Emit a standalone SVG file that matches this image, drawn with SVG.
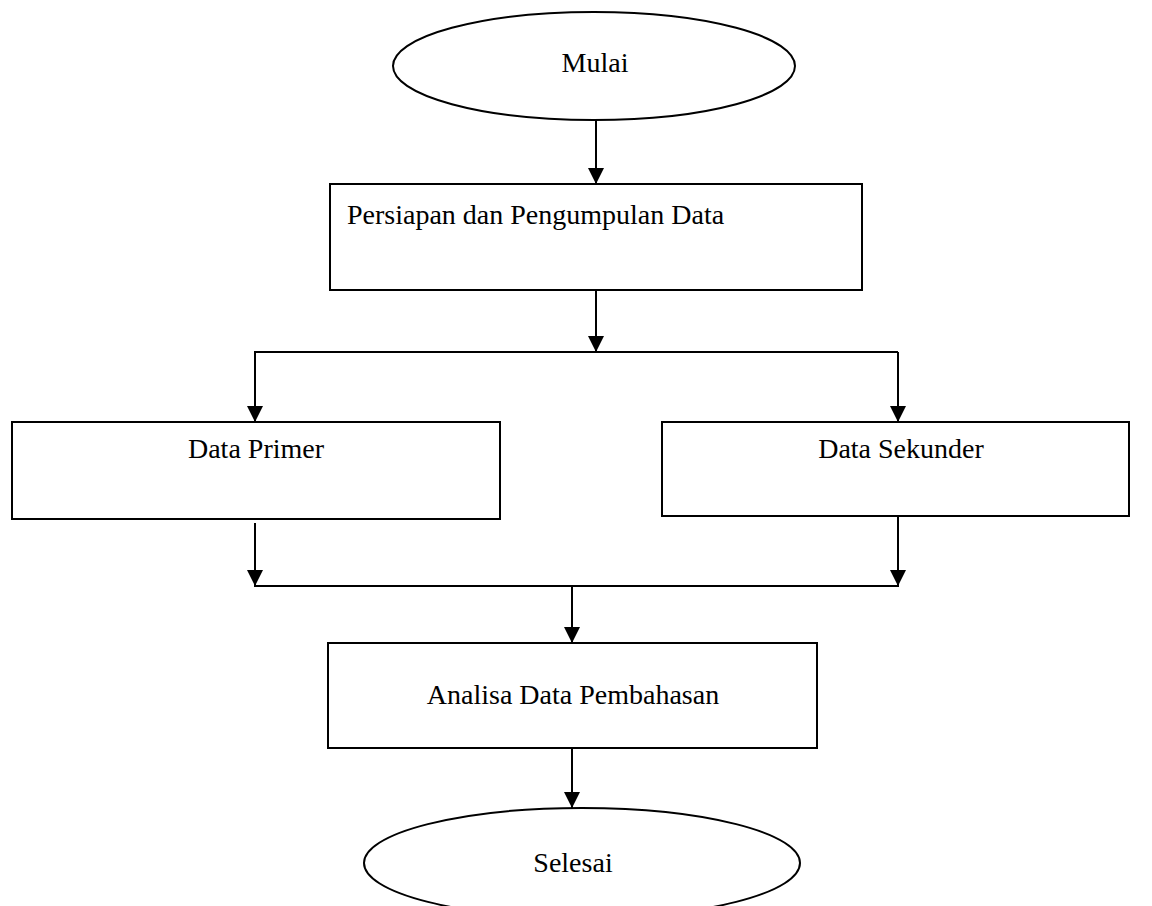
<svg xmlns="http://www.w3.org/2000/svg" width="1152" height="906" viewBox="0 0 1152 906">
<style>
.shape{fill:#fff;stroke:#000;stroke-width:2}
.lbl{font-family:"Liberation Serif","Times New Roman",serif;font-size:28px;fill:#000}
.c{text-anchor:middle}
.edge{fill:none;stroke:#000;stroke-width:2}
</style>
<defs>
<marker id="ah" markerUnits="userSpaceOnUse" markerWidth="16" markerHeight="16" refX="16" refY="8" orient="auto" viewBox="0 0 16 16">
<path d="M0,0 L16,8 L0,16 Z" fill="#000"/>
</marker>
</defs>
<rect width="1152" height="906" fill="#fff"/>
<g id="mulai">
<ellipse class="shape" cx="594" cy="66" rx="201" ry="54"/>
<text class="lbl c" x="595" y="72">Mulai</text>
</g>
<g id="persiapan">
<rect class="shape" x="330" y="184" width="532" height="106"/>
<text class="lbl" x="347" y="224">Persiapan dan Pengumpulan Data</text>
</g>
<g id="data-primer">
<rect class="shape" x="12" y="422" width="488" height="97"/>
<text class="lbl c" x="256" y="458">Data Primer</text>
</g>
<g id="data-sekunder">
<rect class="shape" x="662" y="422" width="467" height="94"/>
<text class="lbl c" x="901" y="458">Data Sekunder</text>
</g>
<g id="analisa">
<rect class="shape" x="328" y="643" width="489" height="105"/>
<text class="lbl c" x="573" y="704">Analisa Data Pembahasan</text>
</g>
<g id="selesai">
<ellipse class="shape" cx="582" cy="863" rx="218" ry="55"/>
<text class="lbl c" x="573" y="872">Selesai</text>
</g>
<g id="connectors">
<line class="edge" x1="596" y1="120" x2="596" y2="184" marker-end="url(#ah)"/>
<line class="edge" x1="596" y1="290" x2="596" y2="352" marker-end="url(#ah)"/>
<line class="edge" x1="254" y1="352" x2="898" y2="352"/>
<line class="edge" x1="255" y1="352" x2="255" y2="422" marker-end="url(#ah)"/>
<line class="edge" x1="898" y1="352" x2="898" y2="422" marker-end="url(#ah)"/>
<line class="edge" x1="255" y1="523" x2="255" y2="586" marker-end="url(#ah)"/>
<line class="edge" x1="898" y1="516" x2="898" y2="586" marker-end="url(#ah)"/>
<line class="edge" x1="254" y1="586" x2="899" y2="586"/>
<line class="edge" x1="572" y1="586" x2="572" y2="643" marker-end="url(#ah)"/>
<line class="edge" x1="572" y1="748" x2="572" y2="808" marker-end="url(#ah)"/>
</g>
</svg>
